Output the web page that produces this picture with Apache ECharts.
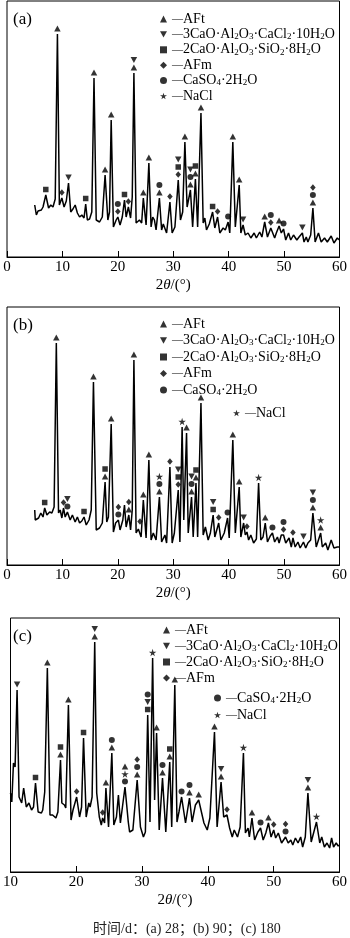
<!DOCTYPE html>
<html>
<head>
<meta charset="utf-8">
<script src="https://cdn.jsdelivr.net/npm/echarts@6/dist/echarts.min.js"></script>
<style>
html,body{margin:0;padding:0;background:#fff}
#chart{width:350px;height:938px}
</style>
</head>
<body>
<div id="chart"></div>
<script>
// XRD patterns of the hardened paste after 28, 90 and 180 days (intensity in a.u.)

// Phase names, in legend order
const phaseNames = ['AFt', '3CaO·Al2O3·CaCl2·10H2O', '2CaO·Al2O3·SiO2·8H2O', 'AFm', 'CaSO4·2H2O', 'NaCl'];
// One-letter codes used in the peak assignment lists below (same order as phaseNames)
const phaseCodes = ['T', 'D', 'S', 'M', 'C', 'N'];

// Diffraction traces: [2θ (°), intensity]
const trace28 = [
  [5.0,52],[5.3,42],[5.6,46],[5.9,44],[6.2,47],[6.5,50],[7.0,62],[7.5,49],[7.9,52],[8.3,50],[8.7,58],[9.1,223],
  [9.45,52],[9.9,59],[10.3,50],[10.7,56],[11.1,74],[11.5,45],[11.9,48],[12.3,52],[12.7,44],[13.1,40],[13.5,42],
  [13.9,39],[14.2,53],[14.5,37],[14.9,38],[15.3,45],[15.7,179],[16.1,37],[16.7,35],[17.2,40],[17.7,82],[18.2,37],
  [18.5,45],[18.8,137],[19.2,30],[19.7,37],[20.0,40],[20.4,32],[20.8,40],[21.2,57],[21.5,40],[21.9,50],[22.3,39],
  [22.6,60],[22.9,184],[23.3,34],[23.9,37],[24.3,34],[24.6,59],[25.1,32],[25.6,94],[26.0,30],[26.3,40],[26.6,37],
  [26.9,27],[27.5,59],[27.9,27],[28.2,33],[28.5,34],[28.8,24],[29.4,55],[29.8,24],[30.3,30],[30.9,77],[31.3,37],
  [31.7,45],[32.1,115],[32.5,50],[33.1,67],[33.5,30],[34.0,78],[34.4,30],[35.0,144],[35.4,34],[35.7,39],[36.0,27],
  [36.5,33],[37.1,45],[37.5,29],[38.0,40],[38.4,24],[39.0,29],[39.4,27],[39.9,35],[40.2,24],[40.75,115],[41.2,30],
  [41.9,72],[42.2,24],[42.6,32],[43.0,22],[43.5,24],[44.0,19],[44.6,24],[45.0,19],[45.6,25],[46.0,20],[46.5,35],
  [47.0,20],[47.6,29],[48.3,19],[48.6,24],[49.1,31],[49.5,24],[49.9,28],[50.3,17],[50.8,24],[51.2,17],[51.7,22],
  [52.3,17],[52.7,20],[53.3,24],[53.6,15],[54.0,20],[54.3,15],[54.8,22],[55.2,49],[55.6,15],[56.2,24],[56.7,15],
  [57.3,19],[57.8,15],[58.5,21],[59.0,14],[59.6,19],[60.0,17]
];
const trace90 = [
  [5.0,55],[5.1,45],[5.7,47],[6.1,52],[6.5,48],[6.8,57],[7.2,50],[7.7,53],[8.1,52],[8.5,58],[8.9,222],[9.3,52],
  [9.6,55],[9.9,47],[10.2,57],[10.5,48],[10.9,53],[11.4,45],[11.8,50],[12.3,43],[12.7,48],[13.1,42],[13.5,44],
  [13.9,48],[14.3,40],[14.8,45],[15.2,55],[15.6,183],[16.1,35],[16.7,37],[17.2,42],[17.7,83],[18.0,43],[18.3,48],
  [18.8,141],[19.2,33],[19.6,42],[20.1,45],[20.4,35],[20.9,45],[21.2,60],[21.5,38],[21.98,50],[22.3,35],[22.6,55],
  [22.9,205],[23.3,32],[23.7,36],[24.0,38],[24.2,28],[24.6,65],[25.1,27],[25.6,105],[26.0,25],[26.4,32],[26.9,25],
  [27.5,68],[27.9,23],[28.5,30],[28.8,22],[29.4,98],[29.8,22],[30.2,32],[30.9,75],[31.2,23],[31.6,138],[31.9,45],
  [32.4,132],[32.7,32],[33.3,68],[33.6,28],[34.1,82],[34.4,28],[35.0,162],[35.4,30],[35.8,38],[36.3,25],[36.7,32],
  [37.2,50],[37.5,28],[38.2,42],[38.6,25],[39.2,32],[39.8,47],[40.1,27],[40.75,125],[41.2,32],[41.9,78],[42.2,28],
  [42.7,42],[43.0,30],[43.3,33],[43.6,25],[44.0,30],[44.5,22],[45.0,26],[45.4,82],[45.8,25],[46.2,28],[46.6,42],
  [47.0,23],[47.5,29],[47.9,32],[48.3,23],[48.8,28],[49.1,22],[49.5,30],[49.9,30],[50.3,22],[50.9,27],[51.3,18],
  [51.6,27],[52.0,18],[52.5,23],[52.9,17],[53.5,23],[53.9,17],[54.3,22],[54.8,25],[55.2,52],[55.8,18],[56.6,32],
  [56.9,18],[57.5,22],[57.9,15],[58.5,25],[59.0,17],[59.6,18],[60.0,18]
];
const trace180 = [
  [10.0,79],[10.2,70],[10.45,109],[10.7,105],[11.0,182],[11.3,75],[11.7,69],[12.0,84],[12.4,65],[12.8,69],[13.2,62],
  [13.5,65],[13.8,89],[14.2,60],[14.7,59],[14.9,62],[15.2,80],[15.6,204],[16.0,57],[16.4,57],[16.9,54],[17.2,60],
  [17.6,112],[17.8,69],[18.2,67],[18.4,64],[18.8,167],[19.2,52],[19.5,62],[19.8,60],[20.05,75],[20.5,55],[20.8,65],
  [21.1,134],[21.5,55],[21.9,69],[22.1,65],[22.4,75],[22.8,230],[23.1,79],[23.5,55],[23.8,47],[24.0,54],[24.3,49],
  [24.5,84],[24.9,45],[25.4,119],[25.7,47],[26.1,55],[26.4,77],[26.7,49],[27.4,85],[27.9,50],[28.1,40],[28.6,42],
  [29.25,92],[29.75,45],[30.2,35],[30.5,40],[30.85,157],[31.2,50],[31.6,214],[31.9,72],[32.2,139],[32.6,42],
  [33.1,94],[33.6,40],[34.2,110],[34.5,45],[34.97,187],[35.3,50],[35.6,60],[36.0,75],[36.6,49],[37.2,74],[37.6,50],
  [38.1,67],[38.6,72],[39.4,49],[39.9,42],[40.3,54],[41.0,140],[41.4,45],[42.0,90],[42.4,55],[42.9,57],[43.3,44],
  [43.7,35],[44.0,42],[44.5,35],[44.9,45],[45.4,119],[45.7,39],[46.1,44],[46.3,35],[46.7,54],[47.1,32],[47.6,40],
  [48.0,44],[48.4,32],[48.8,39],[49.2,49],[49.6,35],[50.0,42],[50.3,34],[50.7,39],[51.2,29],[51.8,35],[52.2,29],
  [52.6,32],[52.9,27],[53.3,34],[53.7,29],[54.1,35],[54.4,25],[54.8,35],[55.2,79],[55.7,30],[56.5,50],[57.0,29],
  [57.3,35],[57.7,25],[58.1,29],[58.5,24],[58.8,34],[59.1,25],[59.5,29],[59.8,26],[60.0,27]
];

// Peak assignments: [2θ, peak intensity, phase codes stacked from the peak upwards]
const peaks28 = [
  [7.0,62,'S'],[9.1,223,'T'],[9.9,59,'M'],[11.1,74,'D'],[14.2,53,'S'],[15.7,179,'T'],[17.7,82,'T'],[18.8,137,'T'],
  [20.0,40,'MC'],[21.2,57,'S'],[21.9,50,'M'],[22.9,184,'TD'],[24.6,59,'T'],[25.6,94,'T'],[27.5,59,'TC'],[29.4,55,'M'],
  [30.9,77,'MSD'],[32.1,115,'T'],[33.1,67,'TCD'],[34.0,78,'TS'],[35.0,144,'T'],[37.1,45,'S'],[38.0,40,'M'],
  [39.9,35,'C'],[40.75,115,'T'],[41.9,72,'T'],[42.6,32,'D'],[46.5,35,'T'],[47.6,29,'MC'],[49.1,31,'T'],
  [49.9,28,'C'],[53.3,24,'D'],[55.2,49,'TCM']
];
const peaks90 = [
  [6.8,57,'S'],[8.9,222,'T'],[10.2,57,'M'],[10.9,53,'CD'],[13.9,48,'S'],[15.6,183,'T'],[17.7,83,'TS'],[18.8,141,'T'],
  [20.1,45,'CM'],[21.98,50,'TM'],[22.9,205,'T'],[24.0,38,'M'],[24.6,65,'T'],[25.6,105,'T'],[27.5,68,'TCN'],
  [29.4,98,'M'],[30.9,75,'MSD'],[31.6,138,'N'],[32.4,132,'T'],[33.3,68,'TCD'],[34.1,82,'TS'],[35.0,162,'T'],
  [37.2,50,'SD'],[38.2,42,'M'],[39.8,47,'C'],[40.75,125,'T'],[41.9,78,'T'],[42.7,42,'D'],[43.3,33,'M'],[45.4,82,'N'],
  [46.6,42,'T'],[47.9,32,'C'],[49.9,30,'MC'],[51.6,27,'M'],[53.5,23,'D'],[55.2,52,'TCD'],[56.6,32,'TN']
];
const peaks180 = [
  [11.0,182,'D'],[13.8,89,'S'],[15.6,204,'T'],[17.6,112,'TS'],[18.8,167,'T'],[20.05,75,'M'],[21.1,134,'S'],
  [22.8,230,'TD'],[24.0,54,'M'],[24.5,84,'T'],[25.4,119,'TC'],[27.4,85,'CNT'],[29.25,92,'TCM'],[30.85,157,'SDC'],
  [31.6,214,'N'],[32.2,139,'T'],[33.1,94,'TC'],[34.2,110,'TS'],[34.97,187,'T'],[36.0,75,'C'],[37.2,74,'TC'],
  [38.6,72,'T'],[41.0,140,'T'],[42.0,90,'TD'],[42.9,57,'M'],[45.4,119,'N'],[46.7,54,'T'],[48.0,44,'C'],
  [49.2,49,'T'],[50.0,42,'M'],[51.8,35,'CM'],[55.2,79,'TD'],[56.5,50,'N']
];

// Axis ranges and labels
const xRanges = [[0, 60], [0, 60], [10, 60]];
const panelLabels = ['(a)', '(b)', '(c)'];
const caption = '时间/d：(a) 28；(b) 90；(c) 180';

// ---- styling / layout ----
const SERIF = "'Liberation Serif','Times New Roman',serif";
const panelBoxes = [
  {top: 1, height: 256},
  {top: 307, height: 258},
  {top: 618, height: 254}
];
const phaseSymbols = [
  {symbol: 'triangle', size: [6.5, 6]},
  {symbol: 'path://M0,0L10,0L5,9Z', size: [6.5, 6]},
  {symbol: 'rect', size: [5.5, 5.5]},
  {symbol: 'diamond', size: [5.5, 6.5]},
  {symbol: 'circle', size: 6},
  {symbol: 'path://M50,0L61,35L98,35L68,57L79,91L50,70L21,91L32,57L2,35L39,35Z', size: 7.5}
];
const MARK_GAP = 5.5, MARK_STEP = 7.5;

const traces = [trace28, trace90, trace180];
const peakSets = [peaks28, peaks90, peaks180];

const grid = [], xAxis = [], yAxis = [], series = [], title = [];

panelBoxes.forEach((box, p) => {
  grid.push({
    left: 7, width: 335, top: box.top, height: box.height,
    show: true, borderColor: '#000', borderWidth: 1, backgroundColor: 'transparent'
  });
  xAxis.push({
    gridIndex: p, type: 'value', min: xRanges[p][0], max: xRanges[p][1], interval: 10,
    name: '{n|2}{i|θ}{n|/(°)}', nameLocation: 'middle', nameGap: 21,
    nameTextStyle: {
      rich: {
        n: {fontFamily: SERIF, fontSize: 15, color: '#000'},
        i: {fontFamily: SERIF, fontSize: 15, fontStyle: 'italic', color: '#000'}
      }
    },
    axisLine: {show: true, lineStyle: {color: '#000', width: 1}},
    axisTick: {show: true, inside: true, length: 6, lineStyle: {color: '#000', width: 1}},
    axisLabel: {fontFamily: SERIF, fontSize: 15, color: '#000', margin: 3},
    splitLine: {show: false}
  });
  yAxis.push({
    gridIndex: p, type: 'value', min: 0, max: box.height, show: false, splitLine: {show: false}
  });
  title.push({
    text: panelLabels[p], left: 8, top: box.top + 5,
    textStyle: {fontFamily: SERIF, fontSize: 17, fontWeight: 'normal', color: '#000'}
  });

  series.push({
    type: 'line', xAxisIndex: p, yAxisIndex: p, data: traces[p],
    symbol: 'none', silent: true, z: 2,
    lineStyle: {color: '#000', width: 1.5}
  });

  phaseNames.forEach((name, k) => {
    const code = phaseCodes[k];
    const items = [];
    peakSets[p].forEach(([x, y, codes]) => {
      const idx = codes.indexOf(code);
      if (idx >= 0) {
        items.push({value: [x, y], symbolOffset: [0, -(MARK_GAP + MARK_STEP * idx)]});
      }
    });
    series.push({
      type: 'scatter', name, xAxisIndex: p, yAxisIndex: p,
      symbol: phaseSymbols[k].symbol, symbolSize: phaseSymbols[k].size,
      itemStyle: {color: '#000'}, clip: false, z: 3, silent: true,
      data: items
    });
  });
});

title.push({
  text: caption, left: 88, top: 917,
  textStyle: {fontFamily: "'Liberation Serif','Noto Sans CJK SC',serif", fontSize: 14, fontWeight: 'normal', color: '#222'}
});

const legendText = {
  fontFamily: SERIF, fontSize: 14, lineHeight: 14, color: '#000',
  rich: {
    d: {fontFamily: SERIF, fontSize: 11, lineHeight: 14, color: '#000'},
    s: {fontFamily: SERIF, fontSize: 9, lineHeight: 7, verticalAlign: 'bottom', color: '#000'}
  }
};
const fmt = name => '{d|—}' + name.replace(/([A-Za-z])(\d+)/g, '$1{s|$2}');
function legendAt(names, left, top, gap) {
  return {
    data: names, orient: 'vertical', left, top, itemGap: gap,
    itemWidth: 7, itemHeight: 7, selectedMode: false,
    formatter: fmt, textStyle: legendText
  };
}
const legend = [
  legendAt(phaseNames, 155, 7, 1.4),
  legendAt(phaseNames.slice(0, 5), 155, 312, 2.5),
  legendAt(['NaCl'], 228, 401, 2),
  legendAt(phaseNames.slice(0, 4), 158, 618, 2),
  legendAt(phaseNames.slice(4), 209, 686, 3)
];

const chart = echarts.init(document.getElementById('chart'), null, {renderer: 'canvas'});
chart.setOption({
  animation: false,
  backgroundColor: '#fff',
  title, legend, grid, xAxis, yAxis, series
});
</script>
</body>
</html>
